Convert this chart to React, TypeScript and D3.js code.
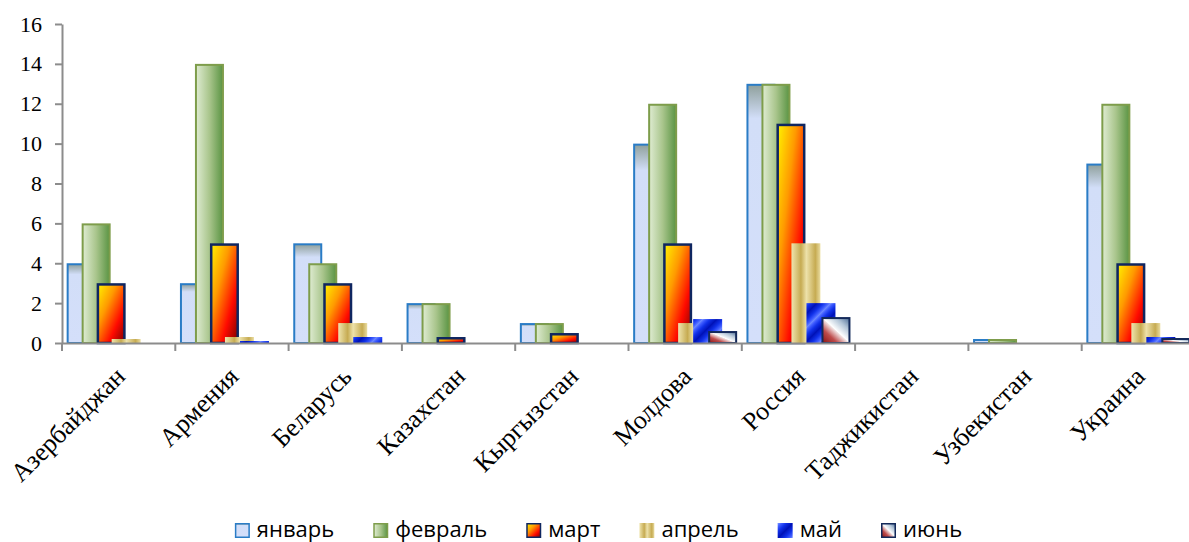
import React, { useEffect, useRef, useMemo } from "react";
import * as d3 from "d3";

const categories = [
  "Азербайджан",
  "Армения",
  "Беларусь",
  "Казахстан",
  "Кыргызстан",
  "Молдова",
  "Россия",
  "Таджикистан",
  "Узбекистан",
  "Украина",
];
const seriesNames = ["январь", "февраль", "март", "апрель", "май", "июнь"];
const january = [4, 3, 5, 2, 1, 10, 13, 0, 0.2, 9];
const february = [6, 14, 4, 2, 1, 12, 13, 0, 0.2, 12];
const march = [3, 5, 3, 0.3, 0.5, 5, 11, 0, 0, 4];
const april = [0.2, 0.3, 1, 0, 0, 1, 5, 0, 0, 1];
const may = [0, 0.1, 0.3, 0, 0, 1.2, 2, 0, 0, 0.3];
const june = [0, 0, 0, 0, 0, 0.6, 1.3, 0, 0, 0.25];
const yTicks = [0, 2, 4, 6, 8, 10, 12, 14, 16];

const seriesValues = [january, february, march, april, may, june];
const seriesStyle = [
  { fill: "url(#gJan)", stroke: "#2A7CC6", sw: 2 },
  { fill: "url(#gFeb)", stroke: "#7E9D4B", sw: 2 },
  { fill: "url(#gMar)", stroke: "#0F2660", sw: 2.5 },
  { fill: "url(#gApr)", stroke: "none", sw: 0 },
  { fill: "url(#gMay)", stroke: "none", sw: 0 },
  { fill: "url(#gJun)", stroke: "#13295A", sw: 2 },
];

const W = 1189;
const H = 542;
const X0 = 62;
const CAT_STEP = 113.3;
const Y_TOP = 24;
const Y_BOT = 343;
const LEGEND_FONT = "22px 'Open Sans'";
const SERIF = "'Liberation Serif', 'Times New Roman', serif";

export default function App() {
  const axisRef = useRef<SVGGElement | null>(null);
  const yAxisRef = useRef<SVGGElement | null>(null);

  const x = d3
    .scaleBand<string>()
    .domain(categories)
    .range([X0, X0 + CAT_STEP * categories.length])
    .paddingInner(0)
    .paddingOuter(0);
  const y = d3.scaleLinear().domain([0, 16]).range([Y_BOT, Y_TOP]);
  const bw = x.bandwidth();
  const barStep = bw * (15 / 113.3);
  const barW = bw * (29 / 113.3);
  const off = (bw - (5 * barStep + barW)) / 2;
  const inner = d3.scaleLinear().domain([0, 5]).range([off, off + 5 * barStep]);

  const legend = useMemo(() => {
    const c = document.createElement("canvas").getContext("2d")!;
    c.font = LEGEND_FONT;
    const widths = seriesNames.map((n) => c.measureText(n).width);
    const sw = 15, gap = 7, sep = 39;
    const total = widths.reduce((a, w) => a + sw + gap + w, 0) + sep * (widths.length - 1);
    let cur = 598.5 - total / 2;
    return widths.map((w, i) => {
      const item = { x: cur, tx: cur + sw + gap, name: seriesNames[i] };
      cur += sw + gap + w + sep;
      return item;
    });
  }, []);

  useEffect(() => {
    if (yAxisRef.current) {
      const g = d3.select(yAxisRef.current);
      g.selectAll("*").remove();
      g.call(
        d3
          .axisLeft(y)
          .tickValues(yTicks)
          .tickSize(7)
          .tickSizeOuter(0)
          .tickPadding(13)
          .tickFormat((d) => String(d))
      );
      g.attr("font-family", SERIF).attr("font-size", 22);
      g.select(".domain").attr("stroke", "#8C8C8C").attr("stroke-width", 2);
      g.selectAll(".tick line").attr("stroke", "#8C8C8C").attr("stroke-width", 2);
      g.selectAll(".tick text")
        .attr("fill", "#000")
        .style("font-family", SERIF)
        .style("font-size", "22px");
    }
    if (axisRef.current) {
      const g = d3.select(axisRef.current);
      g.selectAll("*").remove();
      g.call(d3.axisBottom(x).tickSize(0).tickSizeOuter(0));
      g.attr("font-family", SERIF).attr("font-size", 26);
      g.select(".domain").attr("stroke", "#8C8C8C").attr("stroke-width", 2);
      g.selectAll(".tick text")
        .attr("x", 0)
        .attr("y", 0)
        .attr("dy", 0)
        .attr("fill", "#000")
        .attr("text-anchor", "end")
        .attr("transform", "translate(8,35) rotate(-45)")
        .style("font-family", SERIF)
        .style("font-size", "26px");
      const bounds = categories.map((c) => x(c)!).concat([x(categories[categories.length - 1])! + bw]);
      g.selectAll(".bound")
        .data(bounds)
        .enter()
        .append("line")
        .attr("class", "bound")
        .attr("x1", (d) => d)
        .attr("x2", (d) => d)
        .attr("y1", 0)
        .attr("y2", 8)
        .attr("stroke", "#8C8C8C")
        .attr("stroke-width", 2);
    }
  });

  return (
    <svg
      width={W}
      height={H}
      style={{ position: "absolute", left: 0, top: 0, display: "block", background: "#fff" }}
    >
      <defs>
        <linearGradient id="gJan" x1="0" y1="0" x2="0" y2="1">
          <stop offset="0" stopColor="#8FA09C" />
          <stop offset="0.13" stopColor="#D2DEF8" />
          <stop offset="1" stopColor="#D4DFFA" />
        </linearGradient>
        <linearGradient id="gFeb" x1="0" y1="0" x2="1" y2="0">
          <stop offset="0" stopColor="#DFECD2" />
          <stop offset="0.5" stopColor="#A9C58C" />
          <stop offset="1" stopColor="#5A9443" />
        </linearGradient>
        <linearGradient id="gMar" x1="0" y1="0" x2="1" y2="1">
          <stop offset="0" stopColor="#FFF200" />
          <stop offset="0.35" stopColor="#FF9A00" />
          <stop offset="0.7" stopColor="#FF0A00" />
          <stop offset="1" stopColor="#7A0000" />
        </linearGradient>
        <linearGradient id="gApr" x1="0" y1="0" x2="0.5" y2="0" spreadMethod="repeat">
          <stop offset="0" stopColor="#EFE4AE" />
          <stop offset="0.3" stopColor="#DCCA84" />
          <stop offset="0.65" stopColor="#C6AB52" />
          <stop offset="1" stopColor="#EADDA2" />
        </linearGradient>
        <linearGradient
          id="gMay"
          gradientUnits="userSpaceOnUse"
          x1="0"
          y1="0"
          x2="7"
          y2="7"
          spreadMethod="reflect"
        >
          <stop offset="0" stopColor="#0012B8" />
          <stop offset="0.45" stopColor="#1030E8" />
          <stop offset="0.8" stopColor="#3E5CFF" />
          <stop offset="1" stopColor="#6A86FF" />
        </linearGradient>
        <linearGradient id="gJun" x1="0" y1="1" x2="1" y2="0">
          <stop offset="0" stopColor="#8A1212" />
          <stop offset="0.28" stopColor="#BE4C4C" />
          <stop offset="0.49" stopColor="#F2E4E4" />
          <stop offset="0.51" stopColor="#FFFFFF" />
          <stop offset="0.75" stopColor="#B4C6D8" />
          <stop offset="1" stopColor="#4C6C96" />
        </linearGradient>
      </defs>

      {seriesValues.map((vals, s) => {
        const st = seriesStyle[s];
        return (
          <g key={seriesNames[s]}>
            {vals.map((v, i) => {
              if (v <= 0) return null;
              const bx = x(categories[i])! + inner(s);
              const top = y(v);
              return (
                <rect
                  key={categories[i]}
                  x={bx + st.sw / 2}
                  y={top + st.sw / 2}
                  width={barW - st.sw}
                  height={Math.max(0.5, y(0) - top - st.sw / 2)}
                  fill={st.fill}
                  stroke={st.stroke}
                  strokeWidth={st.sw}
                />
              );
            })}
          </g>
        );
      })}

      <g ref={yAxisRef} transform={`translate(${X0},0)`} />
      <g ref={axisRef} transform={`translate(0,${Y_BOT})`} />

      <g>
        {legend.map((it, i) => {
          const st = seriesStyle[i];
          const sw = st.sw > 0 ? 1.5 : 0;
          return (
            <g key={it.name}>
              <rect
                x={it.x + sw / 2}
                y={523 + sw / 2}
                width={15 - sw}
                height={15 - sw}
                fill={st.fill}
                stroke={st.stroke}
                strokeWidth={sw}
              />
              <text x={it.tx} y={536.5} style={{ font: LEGEND_FONT, fill: "#000" }}>
                {it.name}
              </text>
            </g>
          );
        })}
      </g>
    </svg>
  );
}
